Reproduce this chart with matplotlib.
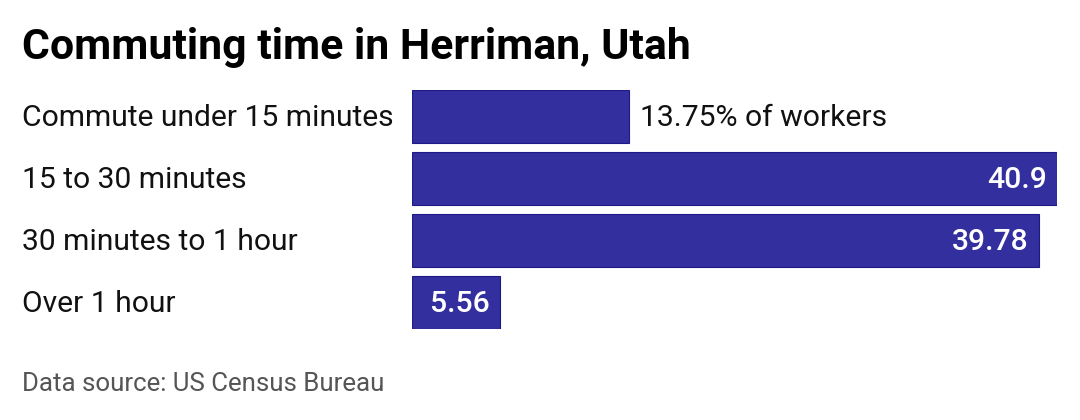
import matplotlib
matplotlib.use('Agg')
import matplotlib.pyplot as plt
from matplotlib.transforms import blended_transform_factory

plt.rcParams['font.family'] = ['Roboto', 'DejaVu Sans']

categories = ['Commute under 15 minutes', '15 to 30 minutes', '30 minutes to 1 hour', 'Over 1 hour']
values = [13.75, 40.9, 39.78, 5.56]
value_labels = ['13.75% of workers', '40.9', '39.78', '5.56']

W, H = 1080, 420
fig = plt.figure(figsize=(W / 100, H / 100), dpi=100)

# axes placed in pixel terms: bars start at x=412, longest bar ends at 1057
ax = fig.add_axes([412 / W, (H - 329) / H, (1057 - 412) / W, (329 - 90) / H])
bar_h = 0.86
ypos = list(range(len(categories)))
ax.barh(ypos, values, height=bar_h, color='#332f9f', edgecolor='#1c1a85', linewidth=0.8)
ax.set_xlim(0, max(values))
ax.set_ylim(len(categories) - 1 + bar_h / 2, -bar_h / 2)
ax.axis('off')

trans = blended_transform_factory(fig.transFigure, ax.transData)
for y, cat in zip(ypos, categories):
    ax.text(22 / W, y + 0.03, cat, transform=trans, ha='left', va='center',
            fontsize=21.6, color='#111111')

for i, (y, v, lab) in enumerate(zip(ypos, values, value_labels)):
    if i == 0:
        ax.annotate(lab, (v, y + 0.03), xytext=(8, 0), textcoords='offset points',
                    ha='left', va='center', fontsize=21.7, color='#111111')
    else:
        ax.annotate(lab, (v, y + 0.03), xytext=(-7.5, 0), textcoords='offset points',
                    ha='right', va='center', fontsize=21.7, color='white',
                    fontweight='medium')

fig.text(22 / W, 1 - 47 / H, 'Commuting time in Herriman, Utah', ha='left', va='center',
         fontsize=30.8, fontweight='bold', color='black')
fig.text(22 / W, 1 - 384 / H, 'Data source: US Census Bureau', ha='left', va='center',
         fontsize=18.6, color='#555555')

fig.savefig('out.png', dpi=100, facecolor='white')
